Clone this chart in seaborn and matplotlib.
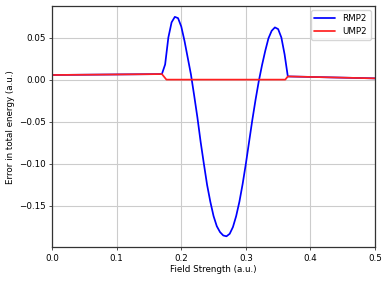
import numpy as np
import pandas as pd
import matplotlib
matplotlib.use("Agg")
import matplotlib.pyplot as plt
import seaborn as sns

# field strength grid and energy errors (a.u.)
field_rmp2 = [0.0, 0.17, 0.175, 0.18, 0.185, 0.19, 0.195, 0.2, 0.205, 0.21,
              0.215, 0.22, 0.225, 0.23, 0.235, 0.24, 0.245, 0.25, 0.255, 0.26,
              0.265, 0.27, 0.275, 0.28, 0.285, 0.29, 0.295, 0.30, 0.305, 0.31,
              0.315, 0.32, 0.325, 0.33, 0.335, 0.34, 0.345, 0.35, 0.355, 0.36,
              0.365, 0.5]
err_rmp2 = [0.0055, 0.0066, 0.018, 0.050, 0.068, 0.0745, 0.073, 0.063, 0.046, 0.026,
            0.006, -0.019, -0.045, -0.074, -0.100, -0.125, -0.145, -0.162, -0.174, -0.181,
            -0.185, -0.186, -0.183, -0.175, -0.162, -0.145, -0.124, -0.100, -0.074, -0.048,
            -0.024, -0.002, 0.017, 0.034, 0.049, 0.058, 0.062, 0.060, 0.050, 0.030,
            0.0038, 0.0015]

field_ump2 = [0.0, 0.17, 0.177, 0.361, 0.365, 0.5]
err_ump2 = [0.0055, 0.0066, 0.0, 0.0, 0.0038, 0.0015]

df = pd.concat([
    pd.DataFrame({"field": field_rmp2, "err": err_rmp2, "method": "RMP2"}),
    pd.DataFrame({"field": field_ump2, "err": err_ump2, "method": "UMP2"}),
], ignore_index=True)

sns.set_style("whitegrid")
plt.rcParams["font.family"] = ["DejaVu Sans"]
plt.rcParams["font.size"] = 6.3
plt.rcParams["text.color"] = "black"
plt.rcParams["axes.labelcolor"] = "black"
plt.rcParams["xtick.color"] = "black"
plt.rcParams["ytick.color"] = "black"

fig, ax = plt.subplots(figsize=(3.89, 2.81), dpi=100)
sns.lineplot(data=df, x="field", y="err", hue="method", sort=False,
             palette={"RMP2": "blue", "UMP2": "#ff2020"}, linewidth=1.25, ax=ax)

ax.set_xlim(0, 0.5)
ax.set_xlabel("Field Strength (a.u.)", fontsize=6.3, labelpad=2)
ax.set_ylabel("Error in total energy (a.u.)", fontsize=6.3, labelpad=3)
ax.tick_params(labelsize=6.3, length=2.5, width=0.6, color="#333333", pad=2,
               bottom=True, left=True)
ax.grid(True, color="#cccccc", linewidth=0.8)
for s in ax.spines.values():
    s.set_color("#333333")
    s.set_linewidth(0.9)
leg = ax.legend(title=None, loc="upper right", fontsize=6.3, frameon=True,
                handlelength=2.4)
leg.get_frame().set_edgecolor("#cccccc")

fig.subplots_adjust(left=0.134, right=0.964, top=0.979, bottom=0.12)
fig.savefig("out.png", dpi=100)
